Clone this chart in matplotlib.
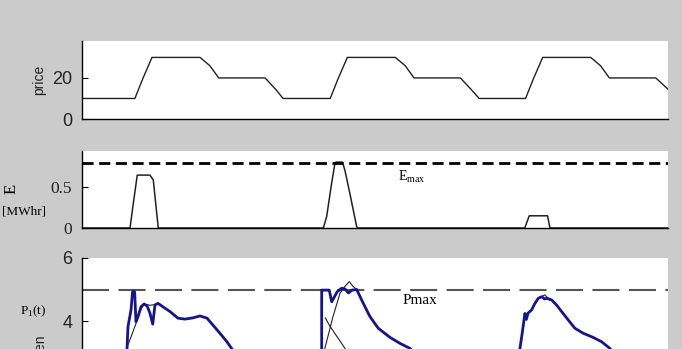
import numpy as np
import matplotlib
matplotlib.use("Agg")
import matplotlib.pyplot as plt

nan = np.nan

# price profile (hours, price)
price_hours = [0, 6.5, 7.4, 8.6, 14.5, 15.7, 16.8, 22.5, 23.9, 24.7,
               30.5, 31.4, 32.6, 38.5, 39.7, 40.8, 46.5, 47.9, 48.8,
               54.5, 55.4, 56.6, 62.5, 63.7, 64.8, 70.5, 72]
price = [10, 10, 19, 30, 30, 26, 20, 20, 14, 10,
         10, 19, 30, 30, 26, 20, 20, 14, 10,
         10, 19, 30, 30, 26, 20, 20, 14.5]

# stored energy [MWhr]
energy_hours = [0, 5.9, 6.3, 6.79, 8.35, 8.76, 8.97, 9.37,
                29.65, 30.06, 30.67, 31.08, 31.2, 32.0, 32.3, 32.9, 33.75, 33.87,
                54.4, 54.95, 57.2, 57.5, 72]
energy = [0, 0, 0.3, 0.65, 0.65, 0.59, 0.385, 0,
          0, 0.14, 0.55, 0.795, 0.81, 0.81, 0.71, 0.43, 0.016, 0,
          0, 0.15, 0.15, 0, 0]
E_max = 0.8

# P1(t), blue trace
p1_hours = [5.4, 5.53, 5.65, 6.02, 6.2, 6.27, 6.47, 6.63, 6.88, 7.25, 7.62, 7.99, 8.35,
            8.69, 8.97, 9.34, 9.95, 10.81, 11.79, 12.65, 13.64, 14.5, 15.36, 16.09,
            16.95, 17.81, 18.43, 19.0, nan,
            29.4, 29.45, 29.45, 30.38, 30.68, 31.36, 31.9, 32.3, 32.74, 33.17, 33.75,
            34.56, 35.38, 36.4, 37.84, 39.07, 40.3, 41.0, nan,
            53.7, 53.8, 54.14, 54.42, 54.6, 54.8, 55.24, 55.65, 56.06, 56.47, 56.85,
            57.1, 57.7, 58.3, 58.93, 59.75, 60.56, 61.59, 62.8, 63.85, 64.86, 65.4]
p1 = [2.6, 3.11, 3.82, 4.35, 4.9, 4.95, 4.92, 3.98, 4.14, 4.45, 4.54, 4.48, 4.25,
      3.9, 4.51, 4.56, 4.45, 4.3, 4.09, 4.06, 4.1, 4.16, 4.09, 3.87,
      3.61, 3.34, 3.11, 2.9, nan,
      2.6, 3.11, 4.98, 4.98, 4.61, 4.93, 5.04, 5.02, 4.89, 4.98, 5.0,
      4.56, 4.14, 3.77, 3.48, 3.29, 3.13, 2.9, nan,
      2.6, 3.11, 3.71, 4.24, 4.05, 4.25, 4.35, 4.56, 4.72, 4.77, 4.7,
      4.72, 4.67, 4.51, 4.3, 4.03, 3.77, 3.61, 3.48, 3.34, 3.13, 2.9]

# thin black reference trace
ref_hours = [5.3, 5.49, 6.72, 7.2, 7.62, 8.35, 8.97, 9.34, nan,
             29.7, 29.85, 30.83, 31.7, 32.3, 32.84, 33.3, 33.75, nan,
             29.9, 30.38, 32.31, 32.8, nan,
             56.2, 56.5, 56.85, 57.2, 57.5]
ref = [2.6, 3.13, 3.98, 4.35, 4.54, 4.5, 4.52, 4.56, nan,
       2.6, 3.14, 4.13, 4.88, 5.1, 5.25, 5.1, 5.0, nan,
       4.1, 3.87, 3.13, 2.9, nan,
       4.74, 4.78, 4.83, 4.74, 4.67]
P_max = 5

sans = "Liberation Sans"
serif = "Liberation Serif"
W, H = 682, 349


def px(x, y):
    # pixel position (from top-left) -> figure fraction
    return x / W, 1 - y / H


fig = plt.figure(figsize=(6.82, 3.49), dpi=100)
fig.patch.set_facecolor("#cbcbcb")

left, width = 82 / W, 586 / W
ax1 = fig.add_axes([left, (H - 119) / H, width, 78 / H])
ax2 = fig.add_axes([left, (H - 228) / H, width, 77.3 / H])
ax3 = fig.add_axes([left, (H - 384) / H, width, 126 / H])

for ax in (ax1, ax2, ax3):
    ax.set_facecolor("white")
    ax.spines["top"].set_visible(False)
    ax.spines["right"].set_visible(False)
    ax.spines["left"].set_linewidth(1.0)
    ax.spines["bottom"].set_linewidth(1.0)
    ax.set_xlim(0, 72)
    ax.set_xticks([])
    ax.tick_params(axis="y", direction="in", length=4, pad=7)

# price
ax1.plot(price_hours, price, color="#222222", lw=1.0)
ax1.set_ylim(0, 38)
ax1.set_yticks([0, 20])
ax1.set_yticklabels(["0", "20"], fontsize=13, fontfamily=sans, color="#222222")
ax1.set_ylabel("price", fontsize=10, fontfamily=sans, labelpad=4, color="#222222")

# energy
ax2.plot(energy_hours, energy, color="#222222", lw=1.1)
ax2.axhline(E_max, color="black", lw=2, dashes=(4, 2))
ax2.set_ylim(0, 0.95)
ax2.set_yticks([0, 0.5])
ax2.set_yticklabels(["0", "0.5"], fontsize=12.5, fontfamily=serif, color="#222222")
fig.text(*px(398, 176.7), r"E$_{\mathregular{max}}$", fontsize=10,
         fontfamily=serif, va="center", ha="left")
fig.text(*px(12, 189), "E", rotation=90, fontsize=12, fontfamily=serif,
         ha="center", va="center")
fig.text(*px(24, 211), "[MWhr]", fontsize=9.5, fontfamily=serif,
         ha="center", va="center")

# power
ax3.axhline(P_max, color="#555555", lw=1.5, dashes=(13, 4.5))
ax3.plot(ref_hours, ref, color="#222222", lw=0.8)
ax3.plot(p1_hours, p1, color="#14148c", lw=2.0)
ax3.set_ylim(2, 6)
ax3.set_yticks([4, 6])
ax3.set_yticklabels(["4", "6"], fontsize=13, fontfamily=sans, color="#222222")
fig.text(*px(403, 300.7), "Pmax", fontsize=11, fontfamily=serif,
         va="center", ha="left")
fig.text(*px(33, 311), r"P$_\mathregular{1}$(t)", fontsize=9.5,
         fontfamily=serif, ha="center", va="center")
fig.text(*px(40, 333), "Pgen", rotation=90, fontsize=10,
         fontfamily=sans, ha="center", va="top", color="#222222")

fig.savefig("out.png", dpi=100, facecolor=fig.get_facecolor())
